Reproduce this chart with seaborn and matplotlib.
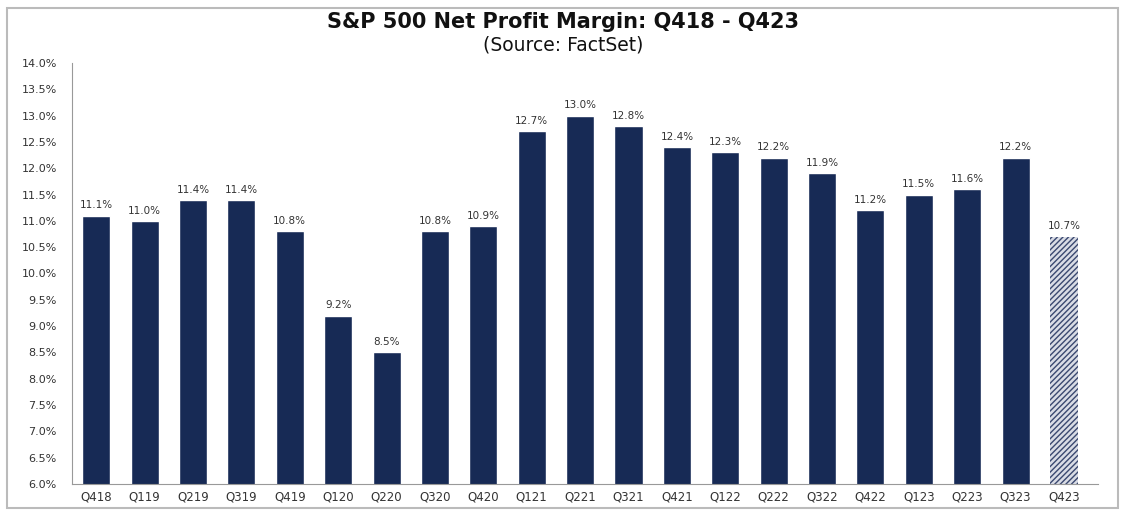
import pandas as pd
import seaborn as sns
import matplotlib.pyplot as plt
from matplotlib.patches import Rectangle

quarters = ['Q418', 'Q119', 'Q219', 'Q319', 'Q419', 'Q120', 'Q220', 'Q320', 'Q420',
            'Q121', 'Q221', 'Q321', 'Q421', 'Q122', 'Q222', 'Q322', 'Q422', 'Q123',
            'Q223', 'Q323', 'Q423']
margins = [11.1, 11.0, 11.4, 11.4, 10.8, 9.2, 8.5, 10.8, 10.9, 12.7, 13.0, 12.8,
           12.4, 12.3, 12.2, 11.9, 11.2, 11.5, 11.6, 12.2, 10.7]
y_ticks = [6.0 + 0.5 * i for i in range(17)]

navy = '#172a55'
sns.set_style('white')
plt.rcParams['font.family'] = ['DejaVu Sans']

d = pd.DataFrame({'quarter': quarters, 'margin': margins})

fig = plt.figure(figsize=(11.26, 5.16), dpi=100)
ax = fig.add_axes([0.064, 0.062, 0.911, 0.816])
sns.barplot(data=d, x='quarter', y='margin', color=navy, saturation=1, width=0.58, ax=ax)

# last quarter is an estimate -> hatched bar
last = ax.patches[len(quarters) - 1]
last.set_facecolor('#d9dce5')
last.set_edgecolor('#3a4870')
last.set_hatch('//////')
last.set_linewidth(0)

for p, v in zip(ax.patches, margins):
    ax.text(p.get_x() + p.get_width() / 2, v + 0.1, f'{v:.1f}%', ha='center', va='bottom',
            fontsize=7.5, color='#333333')

ax.set_ylim(6.0, 14.0)
ax.set_yticks(y_ticks)
ax.set_yticklabels([f'{t:.1f}%' for t in y_ticks], fontsize=8, color='#333333')
ax.tick_params(axis='x', labelsize=8.5, colors='#333333', length=0, pad=5)
ax.tick_params(axis='y', length=0, pad=11)
ax.set_xlabel('')
ax.set_ylabel('')
ax.set_xlim(-0.5, len(quarters) - 0.5 + 0.2)
sns.despine(ax=ax, top=True, right=True)
ax.spines['left'].set_color('#999999')
ax.spines['bottom'].set_color('#999999')

fig.text(0.5, 0.957, 'S&P 500 Net Profit Margin: Q418 - Q423', ha='center', va='center',
         fontsize=15, fontweight='bold', color='#111111')
fig.text(0.5, 0.913, '(Source: FactSet)', ha='center', va='center', fontsize=13.5, color='#111111')

fig.patches.append(Rectangle((0.006, 0.015), 0.987, 0.97, transform=fig.transFigure,
                             fill=False, edgecolor='#bbbbbb', linewidth=1.5))

fig.savefig('out.png', dpi=100)
